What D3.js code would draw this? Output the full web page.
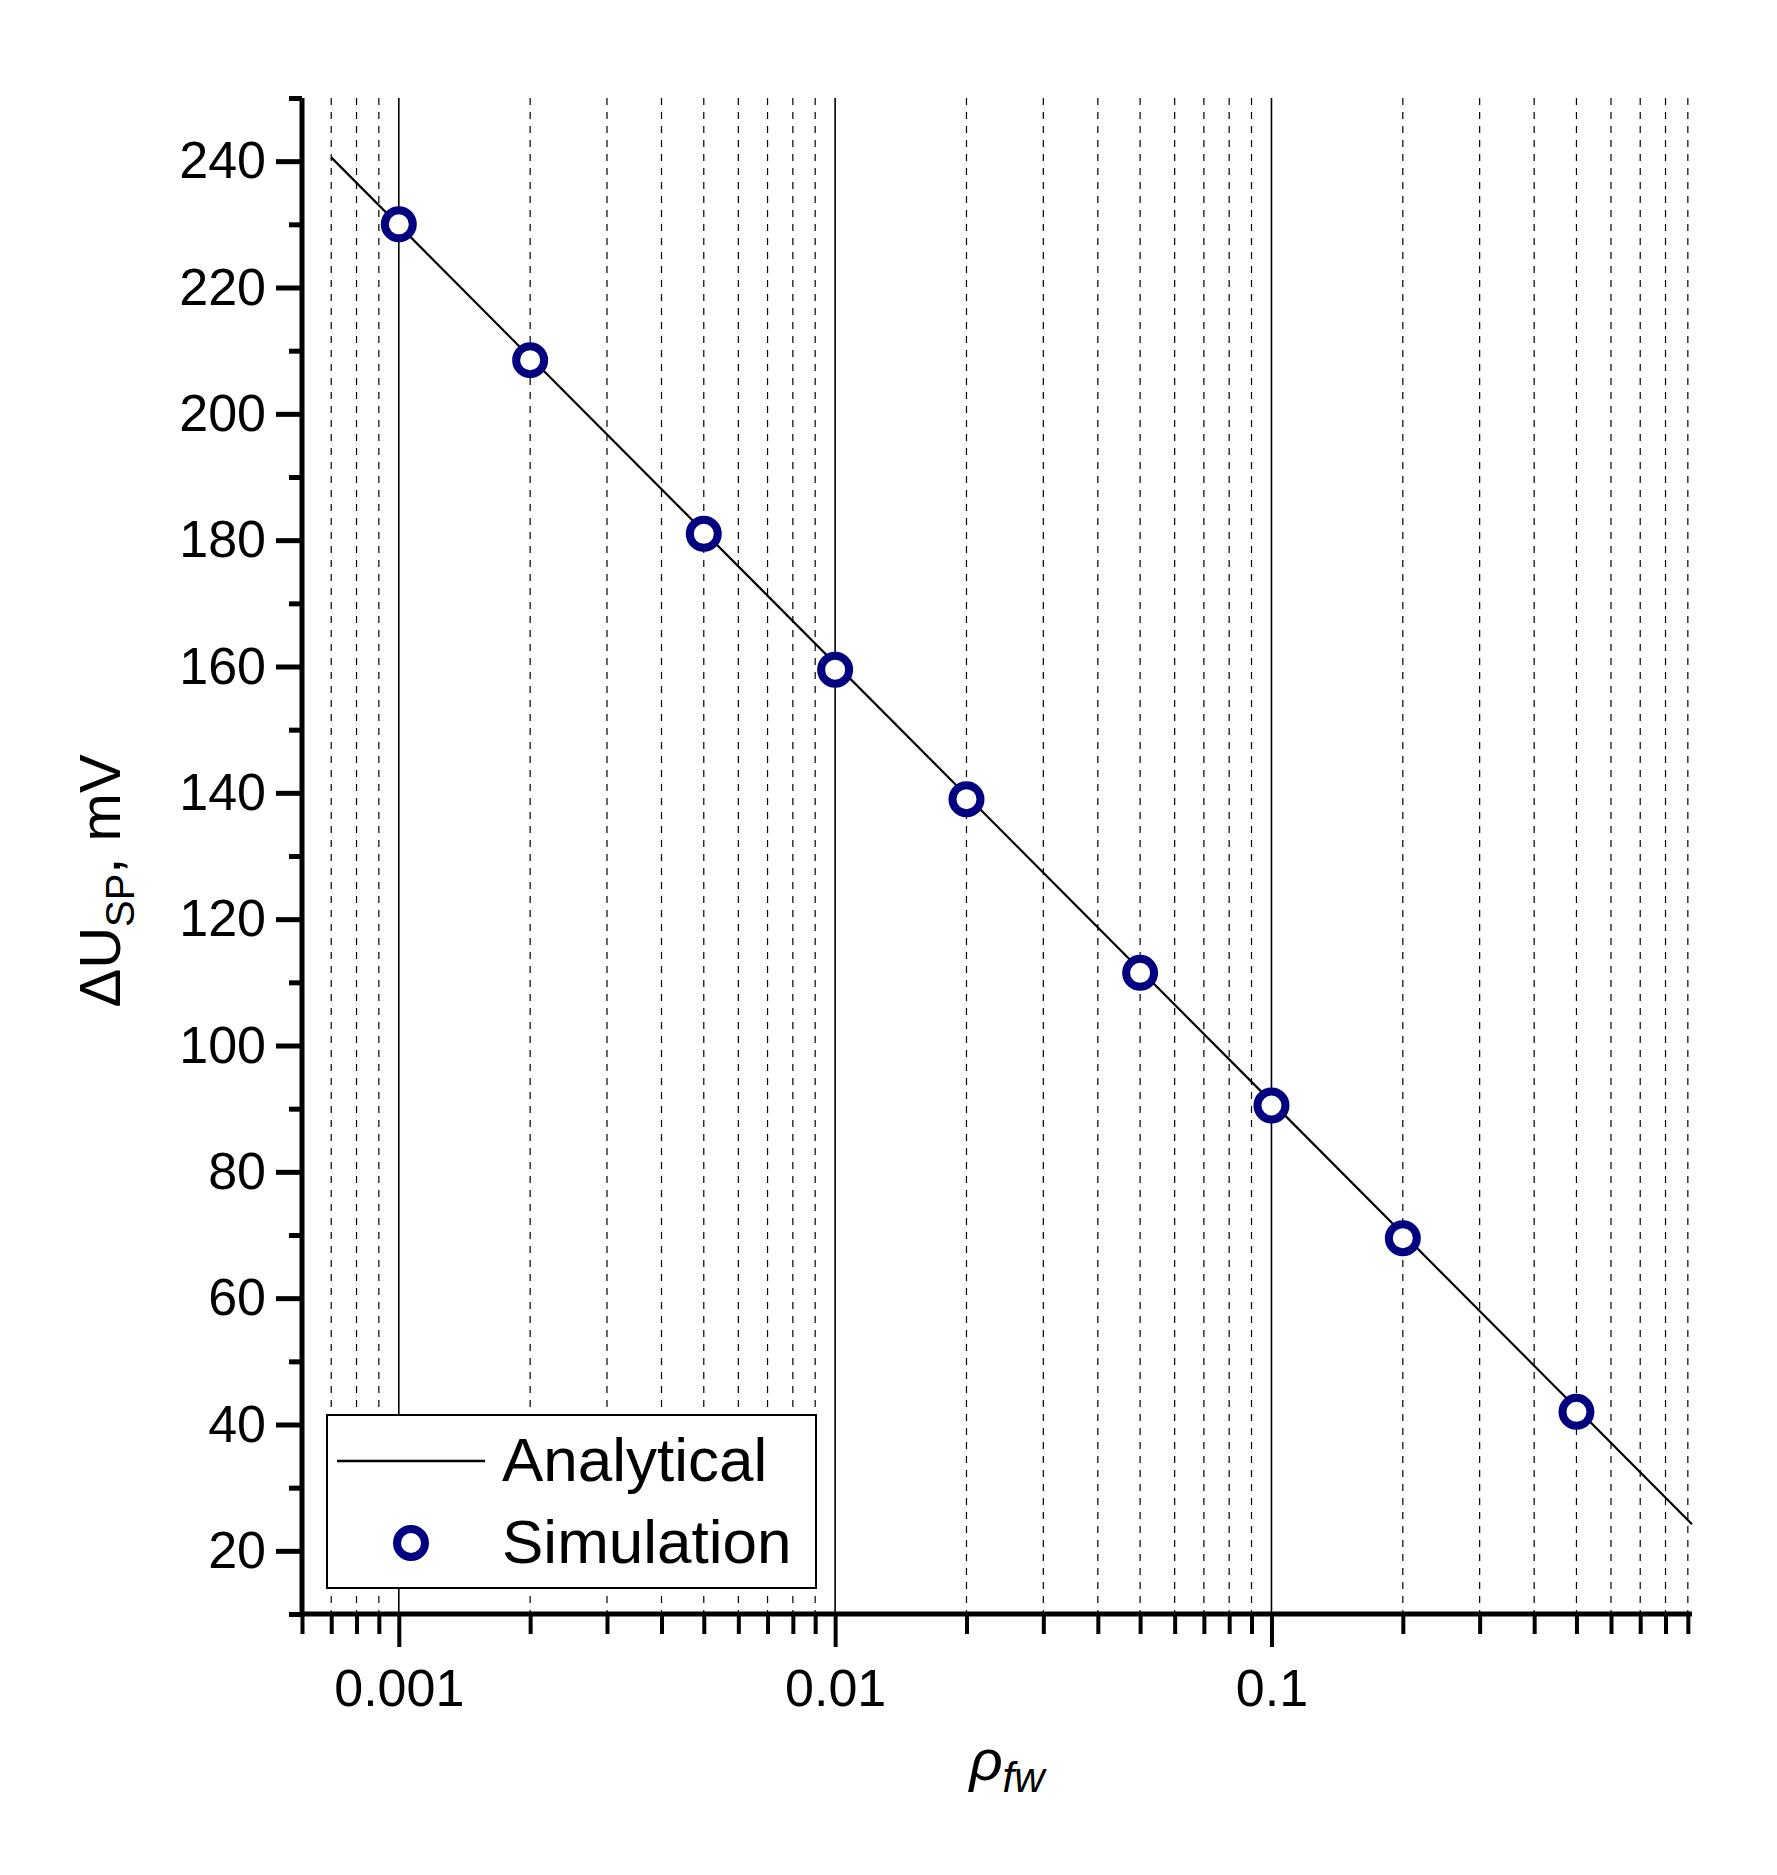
<!DOCTYPE html>
<html>
<head>
<meta charset="utf-8">
<script src="https://cdn.jsdelivr.net/npm/d3@7"></script>
<style>
  body { margin: 0; background: #fff; }
  text { font-family: "Liberation Sans", Arial, sans-serif; }
</style>
</head>
<body>
<div class="viz"></div>
<script>
// data
const simX = [0.001, 0.002, 0.005, 0.01, 0.02, 0.05, 0.1, 0.2, 0.5];
const simY = [230, 208.5, 181, 159.5, 139, 111.5, 90.5, 69.5, 42];
const lineX = [0.0007, 0.92];
const lineY = [240.6, 24.2];
const yTicks = [20, 40, 60, 80, 100, 120, 140, 160, 180, 200, 220, 240];
const xMajor = [0.001, 0.01, 0.1];

const W = 1777, H = 1875;
const margin = { top: 98, right: 85, bottom: 261, left: 302 };
const width = W - margin.left - margin.right;
const height = H - margin.top - margin.bottom;

const svg = d3.select('.viz').append('svg')
  .attr('width', W).attr('height', H);

const g = svg.append('g')
  .attr('transform', 'translate(' + margin.left + ',' + margin.top + ')');

const x = d3.scaleLog().domain([0.0006, 0.92]).range([0, width]);
const y = d3.scaleLinear().domain([10, 250]).range([height, 0]);

// minor values 2..9 of each decade within domain
const xMinor = [];
[0.0001, 0.001, 0.01, 0.1].forEach(d => {
  for (let k = 2; k <= 9; k++) {
    const v = d * k;
    if (v >= 0.0006 && v <= 0.92) xMinor.push(v);
  }
});

// grid
g.append('g').selectAll('line').data(xMinor).enter().append('line')
  .attr('x1', d => x(d)).attr('x2', d => x(d))
  .attr('y1', 0).attr('y2', height)
  .attr('stroke', '#000').attr('stroke-width', 1.2)
  .attr('stroke-dasharray', '7,7');
g.append('g').selectAll('line').data(xMajor).enter().append('line')
  .attr('x1', d => x(d)).attr('x2', d => x(d))
  .attr('y1', 0).attr('y2', height)
  .attr('stroke', '#000').attr('stroke-width', 1.6);

// analytical line
g.append('path')
  .datum(lineX.map((v, i) => [v, lineY[i]]))
  .attr('d', d3.line().x(d => x(d[0])).y(d => y(d[1])))
  .attr('fill', 'none').attr('stroke', '#000').attr('stroke-width', 2.2);

// simulation points
g.append('g').selectAll('circle').data(simX.map((v, i) => [v, simY[i]])).enter()
  .append('circle')
  .attr('cx', d => x(d[0])).attr('cy', d => y(d[1]))
  .attr('r', 14).attr('fill', '#fff')
  .attr('stroke', '#000080').attr('stroke-width', 8);

// x axis
const xAxisMinor = g.append('g').attr('transform', 'translate(0,' + height + ')')
  .call(d3.axisBottom(x).tickValues(xMinor).tickSize(20).tickFormat(''));
const xAxis = g.append('g').attr('transform', 'translate(0,' + height + ')')
  .call(d3.axisBottom(x).tickValues(xMajor).tickSize(33).tickPadding(22)
    .tickFormat(d => d3.format('')(d)));
[xAxisMinor, xAxis].forEach(a => {
  a.select('.domain').attr('stroke-width', 5).attr('d', 'M0,0H' + width);
  a.selectAll('.tick line').attr('stroke-width', 4);
});
xAxis.selectAll('text').attr('font-size', 52).attr('fill', '#000');
xAxisMinor.select('.domain').remove();

// y axis
const yMinor = d3.range(10, 251, 20);
const yAxisMinor = g.append('g')
  .call(d3.axisLeft(y).tickValues(yMinor).tickSize(13).tickFormat(''));
const yAxis = g.append('g')
  .call(d3.axisLeft(y).tickValues(yTicks).tickSize(26).tickPadding(10));
[yAxisMinor, yAxis].forEach(a => {
  a.select('.domain').attr('stroke-width', 5).attr('d', 'M0,0V' + height);
  a.selectAll('.tick line').attr('stroke-width', 5);
});
yAxis.selectAll('text').attr('font-size', 52).attr('fill', '#000');
yAxisMinor.select('.domain').remove();

// axis titles
const yt = svg.append('text')
  .attr('transform', 'translate(120,' + (margin.top + height / 2 + 25) + ') rotate(-90)')
  .attr('text-anchor', 'middle').attr('font-size', 58);
yt.append('tspan').text('\u0394U');
yt.append('tspan').attr('font-size', 40).attr('dy', 14).text('SP');
yt.append('tspan').attr('dy', -14).text(', mV');

const xt = svg.append('text')
  .attr('x', margin.left + width / 2 + 10).attr('y', 1780)
  .attr('text-anchor', 'middle').attr('font-size', 58).attr('font-style', 'italic');
xt.append('tspan').text('\u03C1');
xt.append('tspan').attr('font-size', 42).attr('dy', 12).text('fw');

// legend
const lg = svg.append('g').attr('transform', 'translate(327,1415)');
lg.append('rect').attr('width', 489).attr('height', 173)
  .attr('fill', '#fff').attr('stroke', '#000').attr('stroke-width', 2);
lg.append('line').attr('x1', 10).attr('x2', 158).attr('y1', 46).attr('y2', 46)
  .attr('stroke', '#000').attr('stroke-width', 2.5);
lg.append('text').attr('x', 175).attr('y', 66).attr('font-size', 62).text('Analytical');
lg.append('circle').attr('cx', 84).attr('cy', 128).attr('r', 14)
  .attr('fill', '#fff').attr('stroke', '#000080').attr('stroke-width', 8);
lg.append('text').attr('x', 175).attr('y', 148).attr('font-size', 62).text('Simulation');
</script>
</body>
</html>
